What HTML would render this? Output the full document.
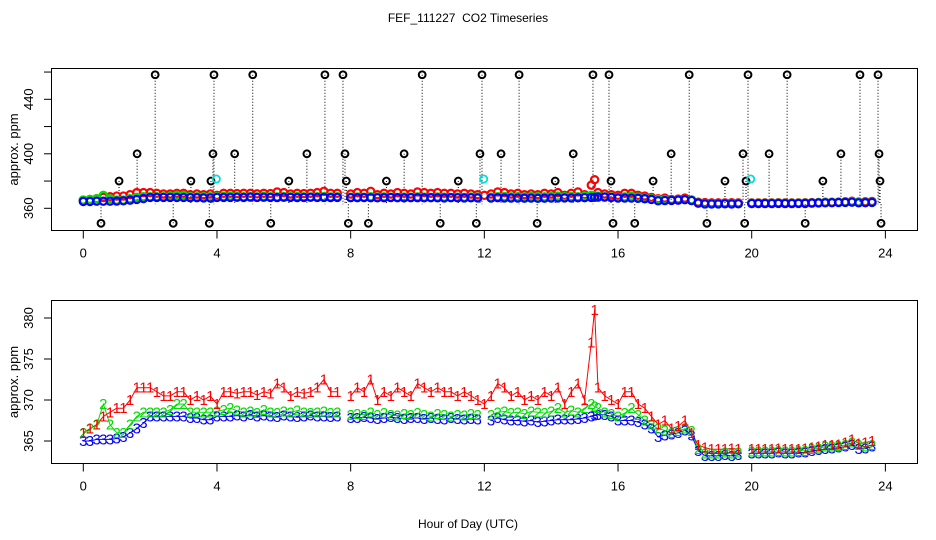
<!DOCTYPE html>
<html><head><meta charset="utf-8"><style>
html,body{margin:0;padding:0;background:#fff;}
svg{display:block;font-family:"Liberation Sans",sans-serif;}
</style></head><body>
<svg id="chart" width="936" height="540" viewBox="0 0 936 540" xmlns="http://www.w3.org/2000/svg">
<text x="468" y="22" text-anchor="middle" font-size="12" style="white-space:pre">FEF_111227  CO2 Timeseries</text>
<g id="topPanel"></g>
<g id="botPanel"></g>
<text x="468" y="528" text-anchor="middle" font-size="12">Hour of Day (UTC)</text>
</svg>
<script>
const hours = [0,0.2,0.4,0.6,0.8,1,1.2,1.4,1.6,1.8,2,2.2,2.4,2.6,2.8,3,3.2,3.4,3.6,3.8,4,4.2,4.4,4.6,4.8,5,5.2,5.4,5.6,5.8,6,6.2,6.4,6.6,6.8,7,7.2,7.4,7.6,7.8,8,8.2,8.4,8.6,8.8,9,9.2,9.4,9.6,9.8,10,10.2,10.4,10.6,10.8,11,11.2,11.4,11.6,11.8,12,12.2,12.4,12.6,12.8,13,13.2,13.4,13.6,13.8,14,14.2,14.4,14.6,14.8,15,15.2,15.3,15.4,15.6,15.8,16,16.2,16.4,16.6,16.8,17,17.2,17.4,17.6,17.8,18,18.2,18.4,18.6,18.8,19,19.2,19.4,19.6,19.8,20,20.2,20.4,20.6,20.8,21,21.2,21.4,21.6,21.8,22,22.2,22.4,22.6,22.8,23,23.2,23.4,23.6,23.8];
const series1 = [366,366.5,367,368,368.5,369,369,370,371.5,371.5,371.5,371,370.5,370.5,371,371,370,370.5,370,370.5,369.5,371,371,370.8,371,371,370.6,371,370.8,372,371.5,370.5,371,370.8,371,371.5,372.5,371,371,null,370.5,371.5,371,372.5,370,371,370.5,371.5,371,370.5,372,371.5,371,371.5,371,371,370.5,371,370.5,370,369.5,370.5,372,371.5,370.5,371,370,370.5,370,371,370.5,371.5,369.5,371,372,370,377,381,371.5,370.5,370,369.5,371,371,369.5,369,368,367,367.5,366.5,366.8,367.5,366,364.5,364.2,364,364,364,364.1,364,null,364,364,364,364,364.1,364,364,364,364.1,364.2,364.3,364.5,364.5,364.6,364.8,365.2,364.7,364.8,365];
const series2 = [366,366.5,367,369.5,367,366,366,367,368,368.5,368.5,368.5,368.5,368.8,369.5,369.5,368.5,368.5,368.5,368.5,368.6,368.8,369,368.7,368.5,368.6,368.4,368.8,368.5,368.4,368.6,368.5,368.7,368.5,368.4,368.5,368.6,368.4,368.5,null,368.2,368.3,368.2,368.5,368.2,368.4,368.2,368.1,368.3,368.2,368.4,368.2,368,368.3,368.2,368,368.2,368.1,368.3,368.2,null,368.2,368.5,368.6,368.4,368.5,368.3,368.6,368.5,368.4,368.6,369,368.5,368.7,368.5,369,369.5,369.2,369,368.5,368.3,368,368.4,369,368.2,367.5,367,366.5,366.3,366,366.2,366.5,366.2,364,363.5,363.5,363.5,363.6,363.5,363.6,null,363.7,363.7,363.7,363.7,363.8,363.7,363.7,363.8,363.8,364,364.1,364.3,364.3,364.4,364.5,364.8,364.5,364.3,364.5];
const series3 = [365,365,365.2,365.2,365.2,365.3,365.5,366,366.5,367.2,368,368,368,368,368,368,367.8,367.8,367.6,367.6,368,368,368,368.1,368,368.2,368,368.1,368,367.9,368.1,368,367.9,368,368.1,368,368,367.9,368,null,367.8,367.8,367.9,367.8,367.7,367.8,367.9,367.8,367.7,367.8,367.8,367.7,367.8,367.7,367.6,367.8,367.7,367.6,367.7,367.6,null,367.5,367.8,367.6,367.5,367.5,367.4,367.5,367.3,367.4,367.5,367.6,367.6,367.6,367.7,367.8,368,368.1,368.2,368.2,368,367.5,367.5,367.5,367.3,367,366.5,365.5,365.7,365.8,366,366.3,365.7,363.8,363.2,363.2,363.2,363.3,363.2,363.3,null,363.5,363.5,363.5,363.5,363.6,363.5,363.5,363.6,363.6,363.8,363.9,364,364.1,364.2,364.3,364.5,364,364.1,364.3];
const outlierHours = [0.53,1.07,1.61,2.15,2.69,3.22,3.77,3.82,3.88,3.91,4.53,5.07,5.61,6.15,6.69,7.23,7.77,7.83,7.87,7.93,8.53,9.07,9.6,10.14,10.68,11.22,11.76,11.87,11.93,12.5,13.04,13.58,14.12,14.66,15.25,15.73,15.79,15.85,16.5,17.05,17.59,18.13,18.66,19.2,19.74,19.79,19.83,19.89,20.52,21.06,21.6,22.13,22.67,23.24,23.78,23.81,23.84,23.87];
const outlierValues = [349,380,400,458,349,380,349,380,400,458,400,458,349,380,400,458,458,400,380,349,349,380,400,458,349,380,349,400,458,400,458,349,380,400,458,458,380,349,349,380,400,458,349,380,400,349,380,458,400,458,349,380,400,458,458,400,380,349];
const cyanHours = [3.98,11.98,19.97];
const cyanValues = [381.5,381.5,381.5];
const topTicks = [360,380,400,420,440,460];
const topLabels = [360,400,440];
const botTicks = [365,370,375,380];
const xTicks = [0,4,8,12,16,20,24];

const NS = "http://www.w3.org/2000/svg";
const X0 = 83.3, XS = 33.42;
const xs = h => X0 + h*XS;
const yTop = v => 208.3 - (v-360)*1.3625;
const yBot = v => 441 - (v-365)*8.2;
function mk(parent, tag, attrs){const e=document.createElementNS(NS,tag);for(const k in attrs)e.setAttribute(k,attrs[k]);parent.appendChild(e);return e;}

function frame(g, y0, y1, ticks, labels, yf, name){
  const box = mk(g,'rect',{x:51.5,y:y0,width:866,height:y1-y0,fill:'none',stroke:'#000','stroke-width':1});
  
  
  ticks.forEach(v=>{
    const t=mk(g,'line',{x1:44,x2:51.5,y1:yf(v),y2:yf(v),stroke:'#000'});
    
    
  });
  labels.forEach(v=>{
    const y=yf(v);
    const t=mk(g,'text',{x:0,y:0,transform:`translate(33,${y}) rotate(-90)`,'text-anchor':'middle','font-size':13});
    t.textContent=v;
    
    
  });
  xTicks.forEach(h=>{
    const t=mk(g,'line',{x1:xs(h),x2:xs(h),y1:y1,y2:y1+8,stroke:'#000'});
    
    
    const l=mk(g,'text',{x:xs(h),y:y1+27,'text-anchor':'middle','font-size':13});
    l.textContent=h;
    
    
  });
  const yl=mk(g,'text',{x:0,y:0,transform:`translate(18,${(y0+y1)/2}) rotate(-90)`,'text-anchor':'middle','font-size':13});
  yl.textContent='approx. ppm';
  
  
}

const topG = document.getElementById('topPanel');
const botG = document.getElementById('botPanel');
frame(topG,68.5,230.5,topTicks,topLabels,yTop,'top');
frame(botG,300.5,463.5,botTicks,botTicks,yBot,'bottom');

outlierHours.forEach((h,i)=>{
  const v=outlierValues[i];
  const l=mk(topG,'line',{x1:xs(h),x2:xs(h),y1:yTop(v),y2:yTop(363),stroke:'#000','stroke-width':1,'stroke-dasharray':'1,2'});
  
  
});
const colors=['#ff0000','#00dd00','#0000ff'];
const allSeries=[series1,series2,series3];
allSeries.forEach((s,si)=>{
  s.forEach((v,i)=>{
    if(v===null || hours[i]===undefined) return;
    const c=mk(topG,'circle',{cx:xs(hours[i]),cy:yTop(v),r:3.6,fill:'none',stroke:colors[si],'stroke-width':2.2});
    
    
  });
});
outlierHours.forEach((h,i)=>{
  const c=mk(topG,'circle',{cx:xs(h),cy:yTop(outlierValues[i]),r:3.4,fill:'none',stroke:'#000','stroke-width':2});
  
  
});
cyanHours.forEach((h,i)=>{
  const c=mk(topG,'circle',{cx:xs(h),cy:yTop(cyanValues[i]),r:3.6,fill:'none',stroke:'#00dddd','stroke-width':1.8});
  
  
});

[2,1,0].forEach(si=>{
  const s=allSeries[si];
  let d='', pen=false;
  s.forEach((v,i)=>{
    if(v===null || hours[i]===undefined){pen=false;return;}
    d+=(pen?'L':'M')+xs(hours[i]).toFixed(1)+' '+yBot(v).toFixed(1)+' ';
    pen=true;
  });
  const p=mk(botG,'path',{d:d,fill:'none',stroke:colors[si],'stroke-width':1});
  
  
});
[2,1,0].forEach(si=>{
  allSeries[si].forEach((v,i)=>{
    if(v===null || hours[i]===undefined) return;
    const t=mk(botG,'text',{x:xs(hours[i]),y:yBot(v)+5,'text-anchor':'middle','font-size':15,fill:colors[si]});
    t.textContent=String(si+1);
    
    
  });
});
</script>
</body></html>
